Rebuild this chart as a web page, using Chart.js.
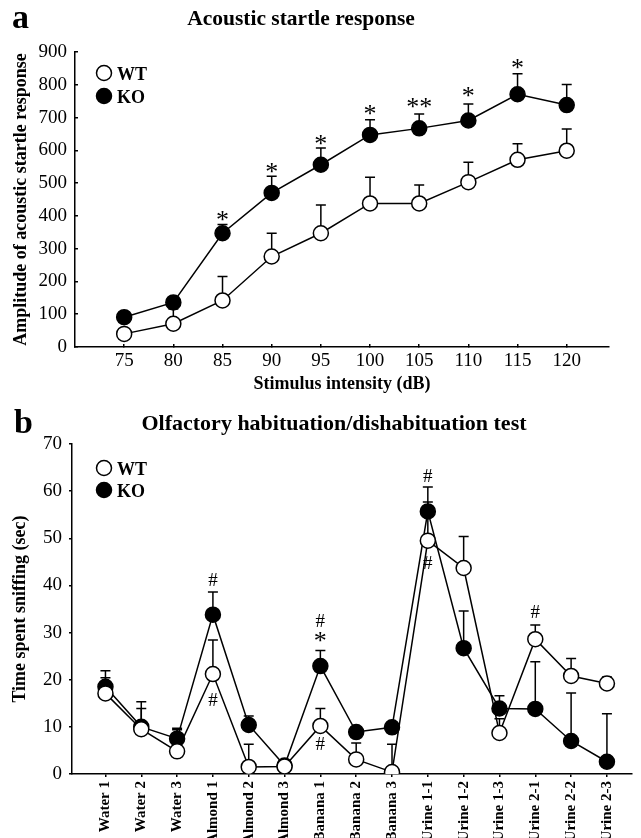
<!DOCTYPE html>
<html>
<head>
<meta charset="utf-8">
<script src="https://cdn.jsdelivr.net/npm/chart.js@4.4.1/dist/chart.umd.min.js"></script>
<style>
html, body { margin: 0; padding: 0; background: #fff; }
#lienzo { position: relative; width: 641px; height: 838px; overflow: hidden; }
#graficaA { position: absolute; left: 0; top: 0; }
#graficaB { position: absolute; left: 0; top: 400px; }
</style>
</head>
<body>
<div id="lienzo">
  <canvas id="graficaA" width="641" height="400"></canvas>
  <canvas id="graficaB" width="641" height="438"></canvas>
</div>
<script>
// ---- Panel a: respuesta de sobresalto acústico ----
const intensidades = [75, 80, 85, 90, 95, 100, 105, 110, 115, 120];
const startleWT    = [40, 71, 142, 276, 347, 438, 438, 503, 571, 599];
const startleWTsem = [8, 45, 73, 71, 86, 80, 56, 61, 49, 66];
const startleKO    = [91, 136, 347, 470, 556, 647, 667, 691, 771, 738];
const startleKOsem = [10, 10, 27, 51, 51, 46, 44, 50, 63, 63];
const marcasA      = ['', '', '*', '*', '*', '*', '**', '*', '*', ''];
const alturaMarcasA = [null, null, 401, 546, 632, 723, 743, 777, 862, null];

// ---- Panel b: habituación olfativa ----
const estimulos = ['Water 1', 'Water 2', 'Water 3', 'Almond 1', 'Almond 2', 'Almond 3',
  'Banana 1', 'Banana 2', 'Banana 3', 'Urine 1-1', 'Urine 1-2', 'Urine 1-3',
  'Urine 2-1', 'Urine 2-2', 'Urine 2-3'];
const olfWT    = [17.1, 9.5, 4.8, 21.2, 1.5, 1.6, 10.2, 3.1, 0.4, 49.5, 43.7, 8.7, 28.6, 20.8, 19.2];
const olfWTsem = [3.3, 5.8, 4.6, 7.2, 4.8, 0.5, 3.7, 3.5, 5.9, 8.2, 6.7, 3.0, 3.0, 3.7, 1.4];
const olfKO    = [18.5, 10.0, 7.5, 33.8, 10.4, 1.8, 22.9, 8.9, 9.9, 55.7, 26.7, 13.9, 13.8, 7.0, 2.6];
const olfKOsem = [3.4, 3.9, 2.2, 4.8, 1.9, 0.5, 3.3, 0.8, 1.2, 5.2, 7.9, 2.7, 10.0, 10.2, 10.2];
// marcas de significancia: indice, altura (seg), texto
const marcasBidx   = [3, 3, 6, 6, 6, 9, 9, 12];
const marcasBy     = [41.2, 15.7, 32.6, 29.1, 6.5, 63.3, 44.8, 34.5];
const marcasBtexto = ['#', '#', '#', '*', '#', '#', '#', '#'];

const FUENTE = 'Liberation Serif';

function textoCentrado(ctx, texto, x, y) {
    const m = ctx.measureText(texto);
    ctx.textAlign = 'center';
    ctx.textBaseline = 'alphabetic';
    ctx.fillText(texto, x, y + (m.actualBoundingBoxAscent - m.actualBoundingBoxDescent) / 2);
}

// barras de error (solo hacia arriba) detras de los puntos
const barrasError = {
    id: 'barrasError',
    beforeDatasetsDraw(chart, args, opts) {
        const { ctx, scales: { x, y } } = chart;
        ctx.save();
        ctx.strokeStyle = '#000';
        ctx.lineWidth = 1.5;
        chart.data.datasets.forEach(ds => {
            ds.data.forEach((p, i) => {
                const px = x.getPixelForValue(p.x);
                const y0 = y.getPixelForValue(p.y);
                const y1 = y.getPixelForValue(p.y + ds.sem[i]);
                ctx.beginPath();
                ctx.moveTo(px, y0); ctx.lineTo(px, y1);
                ctx.moveTo(px - opts.tapa, y1); ctx.lineTo(px + opts.tapa, y1);
                ctx.stroke();
            });
        });
        ctx.restore();
    }
};

// letra del panel, titulo, leyenda y marcas
const decoracion = {
    id: 'decoracion',
    afterDraw(chart, args, opts) {
        const { ctx, scales: { x, y } } = chart;
        ctx.save();
        ctx.fillStyle = '#000';
        ctx.font = `bold 34px "${FUENTE}"`;
        ctx.textAlign = 'left';
        ctx.textBaseline = 'alphabetic';
        ctx.fillText(opts.letra, opts.letraX, opts.letraY);

        ctx.font = `bold ${opts.tituloTam}px "${FUENTE}"`;
        textoCentrado(ctx, opts.titulo, opts.tituloX, opts.tituloY);

        // leyenda
        chart.data.datasets.forEach((ds, i) => {
            const ly = opts.leyendaY + i * opts.leyendaPaso;
            ctx.beginPath();
            ctx.arc(opts.leyendaX, ly, 7.5, 0, Math.PI * 2);
            ctx.fillStyle = ds.pointBackgroundColor;
            ctx.fill();
            ctx.lineWidth = 1.5;
            ctx.strokeStyle = '#000';
            ctx.stroke();
            ctx.fillStyle = '#000';
            ctx.font = `bold 18px "${FUENTE}"`;
            ctx.textAlign = 'left';
            const m = ctx.measureText(ds.label);
            ctx.textBaseline = 'alphabetic';
            ctx.fillText(ds.label, opts.leyendaX + 13, ly + (m.actualBoundingBoxAscent - m.actualBoundingBoxDescent) / 2);
        });

        // marcas de significancia
        opts.marcas.forEach(mk => {
            ctx.font = mk.t.includes('*') ? `26px "${FUENTE}"` : `19px "${FUENTE}"`;
            textoCentrado(ctx, mk.t, x.getPixelForValue(mk.x), y.getPixelForValue(mk.y));
        });
        ctx.restore();
    }
};

function serie(etiqueta, xs, ys, sem, relleno) {
    return {
        label: etiqueta,
        data: xs.map((v, i) => ({ x: v, y: ys[i] })),
        sem: sem,
        borderColor: '#000',
        borderWidth: 1.5,
        pointRadius: 7.5,
        pointBackgroundColor: relleno,
        pointBorderColor: '#000',
        pointBorderWidth: 1.5,
        tension: 0
    };
}

const tituloEje = texto => ({ display: true, text: texto, color: '#000', font: { family: FUENTE, size: 18, weight: 'bold' } });

// ---------- grafica a ----------
const marcasAlistas = [];
marcasA.forEach((t, i) => { if (t) marcasAlistas.push({ x: intensidades[i], y: alturaMarcasA[i], t: t }); });

new Chart(document.getElementById('graficaA'), {
    type: 'line',
    data: {
        datasets: [
            serie('WT', intensidades, startleWT, startleWTsem, '#fff'),
            serie('KO', intensidades, startleKO, startleKOsem, '#000')
        ]
    },
    options: {
        responsive: false,
        animation: false,
        layout: { padding: { top: 52, right: 32, bottom: 0, left: 0 } },
        plugins: {
            legend: { display: false },
            tooltip: { enabled: false },
            barrasError: { tapa: 5 },
            decoracion: {
                letra: 'a', letraX: 12, letraY: 28,
                titulo: 'Acoustic startle response', tituloTam: 21.5, tituloX: 301, tituloY: 20,
                leyendaX: 104, leyendaY: 73, leyendaPaso: 23,
                marcas: marcasAlistas
            }
        },
        scales: {
            x: {
                type: 'linear', min: 70, max: 124.3,
                afterBuildTicks: s => { s.ticks = intensidades.map(v => ({ value: v })); },
                afterFit: s => { s.height = 53; },
                grid: { drawOnChartArea: false, tickLength: -3, color: '#000', lineWidth: 1.5 },
                border: { color: '#000', width: 1.5 },
                ticks: { padding: 6, color: '#000', autoSkip: false, maxRotation: 0, font: { family: FUENTE, size: 19 } },
                title: Object.assign(tituloEje('Stimulus intensity (dB)'), { padding: { top: 0, bottom: 5 } })
            },
            y: {
                min: 0, max: 900,
                afterFit: s => { s.width = 75; },
                grid: { drawOnChartArea: false, tickLength: -3, color: '#000', lineWidth: 1.5 },
                border: { color: '#000', width: 1.5 },
                ticks: { stepSize: 100, padding: 11, color: '#000', font: { family: FUENTE, size: 19 } },
                title: Object.assign(tituloEje('Amplitude of acoustic startle response'), { padding: { top: 11, bottom: 0 } })
            }
        }
    },
    plugins: [barrasError, decoracion]
});

// ---------- grafica b ----------
const indices = estimulos.map((e, i) => i);
new Chart(document.getElementById('graficaB'), {
    type: 'line',
    data: {
        datasets: [
            serie('WT', indices, olfWT, olfWTsem, '#fff'),
            serie('KO', indices, olfKO, olfKOsem, '#000')
        ]
    },
    options: {
        responsive: false,
        animation: false,
        layout: { padding: { top: 44, right: 0, bottom: 0, left: 0 } },
        plugins: {
            legend: { display: false },
            tooltip: { enabled: false },
            barrasError: { tapa: 5 },
            decoracion: {
                letra: 'b', letraX: 14, letraY: 33,
                titulo: 'Olfactory habituation/dishabituation test', tituloTam: 22, tituloX: 334, tituloY: 25,
                leyendaX: 104, leyendaY: 68, leyendaPaso: 22,
                marcas: marcasBidx.map((v, i) => ({ x: v, y: marcasBy[i], t: marcasBtexto[i] }))
            }
        },
        scales: {
            x: {
                type: 'linear', min: -0.934, max: 14.70,
                afterBuildTicks: s => { s.ticks = indices.map(v => ({ value: v })); },
                afterFit: s => { s.height = 64; },
                grid: { drawOnChartArea: false, tickLength: 3, color: '#000', lineWidth: 1.5 },
                border: { color: '#000', width: 1.5 },
                ticks: {
                    padding: 4, color: '#000', autoSkip: false, minRotation: 90, maxRotation: 90,
                    font: { family: FUENTE, size: 15, weight: 'bold' },
                    callback: v => estimulos[v]
                }
            },
            y: {
                min: 0, max: 70,
                afterFit: s => { s.width = 72; },
                grid: { drawOnChartArea: false, tickLength: 3, color: '#000', lineWidth: 1.5 },
                border: { color: '#000', width: 1.5 },
                ticks: { stepSize: 10, padding: 7, color: '#000', font: { family: FUENTE, size: 19 } },
                title: Object.assign(tituloEje('Time spent sniffing (sec)'), { padding: { top: 10, bottom: 0 } })
            }
        }
    },
    plugins: [barrasError, decoracion]
});
</script>
</body>
</html>
